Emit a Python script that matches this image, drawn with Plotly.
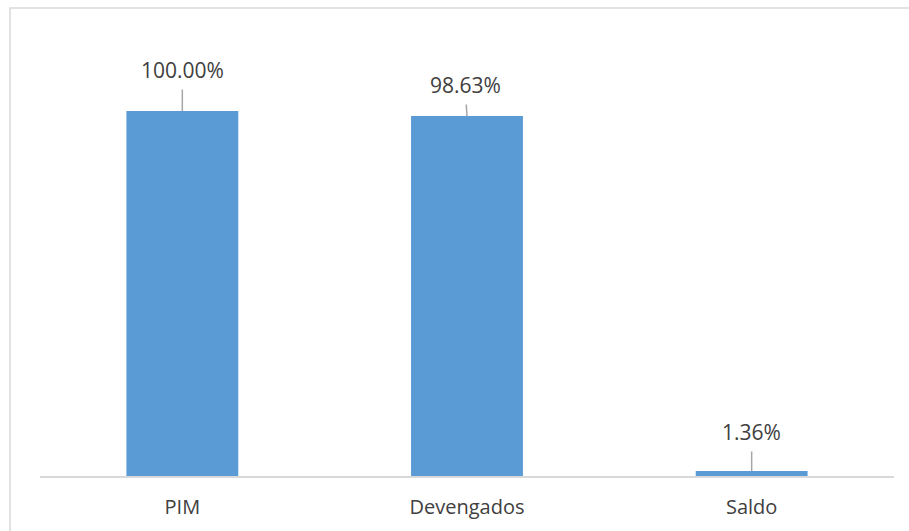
import plotly.graph_objects as go

# Budget execution shares
categories = ["PIM", "Devengados", "Saldo"]
values = [100.00, 98.63, 1.36]
value_labels = ["100.00%", "98.63%", "1.36%"]

# label offsets relative to each bar top (pixels)
label_dx = [0, -2, 0]
label_dy = [-41, -31, -39]

BAR_COLOR = "#5b9bd5"
TEXT_COLOR = "#404040"
FONT = "Open Sans, Liberation Sans, sans-serif"

fig = go.Figure(
    go.Bar(
        x=categories,
        y=values,
        marker=dict(color=BAR_COLOR, line=dict(width=0)),
        hoverinfo="skip",
    )
)

for cat, val, lab, dx, dy in zip(categories, values, value_labels, label_dx, label_dy):
    fig.add_annotation(
        x=cat,
        y=val,
        text=lab,
        showarrow=True,
        arrowhead=0,
        arrowwidth=1.5,
        arrowcolor="#a6a6a6",
        ax=dx,
        ay=dy,
        startstandoff=4,
        font=dict(family=FONT, size=21, color=TEXT_COLOR),
    )

# light frame around the chart area
fig.add_shape(
    type="rect",
    xref="paper",
    yref="paper",
    x0=-0.0351,
    x1=1.02,
    y0=-0.2,
    y1=1.0685,
    line=dict(color="#d9d9d9", width=1.5),
    fillcolor="rgba(0,0,0,0)",
    layer="below",
)

fig.update_layout(
    width=909,
    height=531,
    margin=dict(l=40, r=15, t=38, b=55, autoexpand=False),
    paper_bgcolor="white",
    plot_bgcolor="white",
    bargap=0.607,
    showlegend=False,
    font=dict(family=FONT, color=TEXT_COLOR),
)
fig.update_xaxes(
    showline=True,
    linecolor="#d9d9d9",
    linewidth=2,
    ticks="",
    showgrid=False,
    automargin=False,
    tickfont=dict(family=FONT, size=20, color=TEXT_COLOR),
    ticklabelstandoff=12,
)
fig.update_yaxes(
    range=[0, 120],
    visible=False,
    showgrid=False,
    zeroline=False,
)

fig.write_html("out.html", config={"displayModeBar": False})
